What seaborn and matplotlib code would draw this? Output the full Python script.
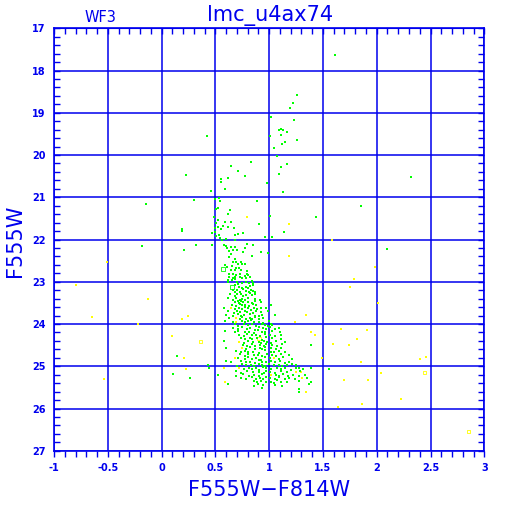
import matplotlib
matplotlib.use('Agg')
import matplotlib.pyplot as plt
import seaborn as sns
import pandas as pd

BLUE = '#0000ee'

# scattered green stars (colour, magnitude)
green_x = [1.613,
           1.255, 1.218, 1.193, 1.019, 1.233,
           1.093, 1.109, 1.13, 1.162, 1.007, 1.109, 0.421,
           1.26, 1.143, 1.118, 1.047, 1.069,
           0.83, 1.162, 0.641, 1.106, 0.709, 1.093, 0.78,
           0.548, 0.622, 0.553, 0.976, 0.585, 0.458, 1.125,
           0.225, 0.306, -0.147, 2.315, 1.85,
           0.492, 0.532, 0.541, 0.883,
           0.507, 0.52, 0.634, 0.616, 0.486, 0.529, 0.51, 0.585, 0.641, 1.007, 0.901, 1.434,
           0.492, 0.529, 0.572, 0.622, 0.553, 0.672, 0.194, 0.194,
           0.467, 0.492, 0.51, 0.535, 0.541, 0.56, 0.597, 0.678, 0.709, 0.758, 0.678, 0.957, 1.025, 1.137,
           0.473, 0.578, 0.597, 0.609, 0.647, 0.678, 0.79, 0.851, 0.771,
           0.628, 0.665, 0.702, 0.92, 0.988, 0.753, 0.641, 0.628, 0.845,
           0.678, 0.665, 0.696, 0.74, 0.715, 0.752, 0.777, 0.585, 0.604, 0.653, 0.721, 0.69,
           0.647, 0.678, 0.74, 0.79,
           0.628, 0.665, 0.696, 0.727, 0.79, 0.777, 0.802,
           0.628, 0.665, 0.684, 0.727, 0.752, 0.783, 0.82,
           0.622, 0.653, 0.678,
           0.702, 0.746, 0.783, 0.814, 0.839, 0.851, 0.616,
           0.678, 0.709, 0.721, 0.746, 0.783, 0.808, 0.82, 0.851,
           0.324, -0.184, 0.212, 2.098, 0.141, 0.104, 0.268]
green_y = [17.63,
           18.57, 18.76, 18.89, 19.09, 19.17,
           19.41, 19.38, 19.41, 19.45, 19.55, 19.52, 19.55,
           19.64, 19.69, 19.74, 19.83, 20.02,
           20.16, 20.21, 20.26, 20.28, 20.38, 20.45, 20.50,
           20.56, 20.54, 20.64, 20.65, 20.80, 20.84, 20.87,
           20.48, 21.06, 21.16, 20.51, 21.21,
           21.03, 21.02, 21.09, 21.08,
           21.28, 21.25, 21.30, 21.40, 21.46, 21.54, 21.60, 21.58, 21.58, 21.44, 21.63, 21.46,
           21.73, 21.70, 21.68, 21.70, 21.74, 21.73, 21.76, 21.79,
           21.84, 21.83, 21.91, 21.89, 21.96, 22.00, 21.99, 21.89, 21.86, 21.84, 22.00, 21.94, 21.94, 21.81,
           22.14, 22.13, 22.16, 22.19, 22.18, 22.18, 22.10, 22.13, 22.21,
           22.27, 22.25, 22.24, 22.29, 22.32, 22.30, 22.35, 22.41, 22.38,
           22.46, 22.54, 22.52, 22.54, 22.59, 22.59, 22.59, 22.60, 22.65, 22.62, 22.68, 22.68,
           22.73, 22.73, 22.73, 22.74,
           22.81, 22.82, 22.84, 22.81, 22.82, 22.86, 22.84,
           22.89, 22.90, 22.89, 22.89, 22.92, 22.90, 22.89,
           22.95, 22.96, 22.94,
           23.01, 23.03, 23.00, 23.03, 22.98, 23.03, 23.00,
           23.08, 23.06, 23.12, 23.14, 23.12, 23.14, 23.11, 23.08,
           22.13, 22.15, 22.25, 22.22, 24.76, 25.18, 25.28]

# dense lower main sequence, read band by band (colours, then magnitudes)
band_colors = [
    [0.665, 0.678, 0.703, 0.727, 0.758, 0.783, 0.814, 0.827, 0.864, 0.851],
    [0.634, 0.678, 0.703, 0.740, 0.758, 0.789, 0.82, 0.839, 0.870],
    [0.622, 0.665, 0.69, 0.727, 0.752, 0.777, 0.808, 0.870, 0.913],
    [0.678, 0.709, 0.721, 0.740, 0.758, 0.802, 0.839, 0.870, 0.92],
    [0.653, 0.696, 0.727, 0.752, 0.777, 0.814, 0.851, 0.882, 1.013],
    [0.578, 0.684, 0.721, 0.746, 0.777, 0.808, 0.827, 0.858, 0.889, 0.92, 0.969],
    [0.622, 0.671, 0.703, 0.727, 0.771, 0.796, 0.851, 0.882, 0.926, 0.988],
    [0.597, 0.665, 0.715, 0.740, 0.765, 0.82, 0.864, 0.907, 0.938, 1.056],
    [0.628, 0.727, 0.752, 0.789, 0.82, 0.845, 0.870, 0.907, 0.944],
    [0.585, 0.665, 0.746, 0.777, 0.808, 0.833, 0.858, 0.901, 0.944, 0.994],
    [0.678, 0.709, 0.765, 0.802, 0.845, 0.876, 0.932, 0.963, 0.988, 1.013, 1.025],
    [0.665, 0.709, 0.746, 0.796, 0.82, 0.864, 0.907, 0.944, 0.975, 1.006, 1.05, 1.093],
    [0.585, 0.678, 0.715, 0.777, 0.814, 0.858, 0.895, 0.932, 0.957, 1.031, 1.099],
    [0.721, 0.765, 0.796, 0.839, 0.882, 0.913, 0.963, 1.006, 1.056, 1.112],
    [0.734, 0.777, 0.82, 0.845, 0.889, 0.938, 0.975, 1.025, 1.106],
    [0.578, 0.765, 0.808, 0.851, 0.901, 0.926, 0.951, 0.982, 1.013, 1.068, 1.143],
    [0.758, 0.796, 0.839, 0.864, 0.913, 0.951, 0.975, 1.031, 1.075, 1.118, 1.385],
    [0.603, 0.783, 0.82, 0.870, 0.913, 0.938, 0.963, 1.019, 1.062, 1.112],
    [0.69, 0.734, 0.777, 0.808, 0.851, 0.907, 0.963, 1.013, 1.044, 1.087, 1.143],
    [0.727, 0.771, 0.808, 0.858, 0.895, 0.938, 0.982, 1.031, 1.068, 1.106, 1.18],
    [0.715, 0.777, 0.802, 0.839, 0.876, 0.92, 0.963, 1.006, 1.087, 1.13, 1.211],
    [0.597, 0.647, 0.740, 0.783, 0.82, 0.864, 0.901, 0.932, 0.975, 1.013, 1.05, 1.099, 1.143, 1.18],
    [0.436, 0.703, 0.746, 0.789, 0.827, 0.858, 0.907, 0.938, 0.963, 0.994, 1.044, 1.087, 1.124, 1.168, 1.211, 1.248],
    [0.442, 0.765, 0.814, 0.839, 0.876, 0.907, 0.944, 0.975, 1.019, 1.075, 1.106, 1.149, 1.199, 1.254, 1.279, 1.316, 1.391, 1.558],
    [0.696, 0.740, 0.796, 0.851, 0.901, 0.951, 0.975, 1.006, 1.056, 1.112, 1.168, 1.285],
    [0.529, 0.69, 0.758, 0.814, 0.858, 0.901, 0.938, 1.062, 1.087, 1.13, 1.174, 1.223, 1.279, 1.335],
    [0.734, 0.789, 0.839, 0.882, 0.913, 0.944, 0.975, 1.006, 1.05, 1.087, 1.149, 1.186, 1.236, 1.353],
    [0.858, 0.889, 0.92, 0.975, 1.013, 1.044, 1.075, 1.106, 1.168, 1.273, 1.391],
    [0.616, 0.858, 0.895, 0.944, 1.056, 1.124, 1.366],
    [0.932, 1.273],
    [1.279],
]
band_mags = [
    [23.19, 23.23, 23.20, 23.24, 23.18, 23.22, 23.25, 23.19, 23.23, 23.21],
    [23.29, 23.33, 23.30, 23.28, 23.34, 23.31, 23.27, 23.32, 23.30],
    [23.39, 23.42, 23.38, 23.43, 23.40, 23.44, 23.39, 23.41, 23.42],
    [23.48, 23.46, 23.49, 23.45, 23.48, 23.47, 23.50, 23.46, 23.48],
    [23.54, 23.57, 23.53, 23.56, 23.55, 23.58, 23.53, 23.56, 23.55],
    [23.62, 23.65, 23.61, 23.64, 23.60, 23.63, 23.66, 23.62, 23.64, 23.61, 23.63],
    [23.70, 23.73, 23.69, 23.72, 23.68, 23.71, 23.74, 23.70, 23.72, 23.69],
    [23.78, 23.80, 23.77, 23.81, 23.79, 23.76, 23.80, 23.82, 23.78, 23.79],
    [23.85, 23.88, 23.84, 23.87, 23.86, 23.89, 23.84, 23.87, 23.85],
    [23.93, 23.95, 23.92, 23.96, 23.93, 23.91, 23.95, 23.94, 23.97, 23.93],
    [24.01, 24.04, 24.00, 24.03, 24.01, 24.05, 23.99, 24.02, 24.04, 24.00, 24.03],
    [24.09, 24.12, 24.08, 24.11, 24.10, 24.13, 24.07, 24.10, 24.12, 24.08, 24.11, 24.09],
    [24.17, 24.20, 24.16, 24.19, 24.18, 24.21, 24.15, 24.18, 24.20, 24.16, 24.19],
    [24.25, 24.28, 24.24, 24.27, 24.26, 24.29, 24.23, 24.26, 24.28, 24.25],
    [24.33, 24.36, 24.32, 24.35, 24.34, 24.37, 24.31, 24.34, 24.36],
    [24.41, 24.44, 24.40, 24.43, 24.42, 24.45, 24.39, 24.42, 24.44, 24.40, 24.43],
    [24.49, 24.52, 24.48, 24.51, 24.50, 24.53, 24.47, 24.50, 24.52, 24.48, 24.50],
    [24.56, 24.59, 24.55, 24.58, 24.57, 24.60, 24.54, 24.57, 24.59, 24.56],
    [24.64, 24.67, 24.63, 24.66, 24.65, 24.68, 24.62, 24.65, 24.67, 24.63, 24.66],
    [24.72, 24.75, 24.71, 24.74, 24.73, 24.76, 24.70, 24.73, 24.75, 24.71, 24.74],
    [24.80, 24.83, 24.79, 24.82, 24.81, 24.84, 24.78, 24.81, 24.83, 24.79, 24.82],
    [24.88, 24.91, 24.87, 24.90, 24.89, 24.92, 24.86, 24.89, 24.91, 24.87, 24.90, 24.88, 24.92, 24.89],
    [24.96, 24.99, 24.95, 24.98, 24.97, 25.00, 24.94, 24.97, 24.99, 24.95, 24.98, 24.96, 25.00, 24.97, 24.95, 24.98],
    [25.04, 25.07, 25.03, 25.06, 25.05, 25.08, 25.02, 25.05, 25.07, 25.03, 25.06, 25.04, 25.08, 25.05, 25.03, 25.06, 25.04, 25.07],
    [25.12, 25.15, 25.11, 25.14, 25.13, 25.16, 25.10, 25.13, 25.15, 25.11, 25.14, 25.12],
    [25.20, 25.23, 25.19, 25.22, 25.21, 25.24, 25.18, 25.21, 25.23, 25.19, 25.22, 25.20, 25.24, 25.21],
    [25.27, 25.30, 25.26, 25.29, 25.28, 25.31, 25.25, 25.28, 25.30, 25.26, 25.29, 25.27, 25.31, 25.28],
    [25.35, 25.38, 25.34, 25.37, 25.36, 25.39, 25.33, 25.36, 25.38, 25.34, 25.37],
    [25.43, 25.46, 25.42, 25.45, 25.44, 25.47, 25.41],
    [25.51, 25.53],
    [25.60],
]

yellow_x = [0.79, 1.18, 1.18, -0.507, -0.792, -0.122, -0.65, 0.188, 0.243, -0.222, 0.095, 0.206, 0.231, -0.538,
            1.583, 1.98, 1.788, 1.751, 2.01, 1.67, 1.906, 1.813, 1.59, 1.738, 1.85, 2.402, 2.458, 2.036,
            1.695, 1.918, 2.222, 1.639, 1.862,
            0.641, 1.341, 0.69, 0.696, 1.236, 1.385, 1.422, 0.721, 0.752, 0.678, 1.044, 1.49, 0.578,
            0.721, 1.248, 1.298, 1.019, 1.31, 0.585, 1.347]
yellow_y = [21.46, 21.63, 22.40, 22.53, 23.07, 23.40, 23.83, 23.87, 23.81, 24.01, 24.28, 24.81, 25.06, 25.30,
            22.00, 22.64, 22.93, 23.13, 23.49, 24.11, 24.14, 24.35, 24.47, 24.50, 24.90, 24.82, 24.77, 25.15,
            25.32, 25.32, 25.78, 25.96, 25.89,
            23.63, 23.79, 23.86, 23.94, 23.94, 24.18, 24.26, 24.42, 24.57, 24.81, 24.81, 24.81, 25.05,
            25.05, 25.13, 25.13, 25.21, 25.28, 25.36, 25.60]

# open symbols
open_yellow_x = [0.361, 0.907, 2.442, 2.851]
open_yellow_y = [24.42, 24.34, 25.14, 26.54]
open_green_x = [0.572, 0.653]
open_green_y = [22.70, 23.12]

x_ticks = [-1, -0.5, 0, 0.5, 1, 1.5, 2, 2.5, 3]
x_labels = ['-1', '-0.5', '0', '0.5', '1', '1.5', '2', '2.5', '3']
y_ticks = list(range(17, 28))
x_minor = [v / 10 for v in range(-10, 31)]
y_minor = [17 + v / 5 for v in range(51)]

#%% build tables
gx = list(green_x)
gy = list(green_y)
for cols, mags in zip(band_colors, band_mags):
    gx += cols
    gy += mags
green = pd.DataFrame({'color': gx, 'mag': gy})
yellow = pd.DataFrame({'color': yellow_x, 'mag': yellow_y})

#%% plot
sns.set_style('white')
fig = plt.figure(figsize=(5.12, 5.12), dpi=100)
ax = fig.add_axes([54 / 512, 1 - 450.8 / 512, 430.3 / 512, 422.5 / 512])

ax.set_xlim(-1, 3)
ax.set_ylim(27, 17)
ax.set_xticks(x_ticks)
ax.set_xticklabels(x_labels)
ax.set_yticks(y_ticks)
ax.set_xticks(x_minor, minor=True)
ax.set_yticks(y_minor, minor=True)
ax.grid(True, which='major', color=BLUE, linewidth=1.1)
ax.set_axisbelow(True)

sns.scatterplot(data=yellow, x='color', y='mag', ax=ax, color='#ffff00', marker='s',
                s=3.4, linewidth=0, zorder=3)
sns.scatterplot(x=open_yellow_x, y=open_yellow_y, ax=ax, marker='s', s=6,
                facecolor='none', edgecolor='#ffff00', linewidth=0.6, zorder=3)
sns.scatterplot(data=green, x='color', y='mag', ax=ax, color='#00ff00', marker='s',
                s=3.4, linewidth=0, zorder=4)
sns.scatterplot(x=open_green_x, y=open_green_y, ax=ax, marker='s', s=6,
                facecolor='none', edgecolor='#00ff00', linewidth=0.6, zorder=4)

for sp in ax.spines.values():
    sp.set_color(BLUE)
    sp.set_linewidth(1.2)

ax.tick_params(axis='x', which='both', direction='out', length=4, width=1, color=BLUE,
               labelcolor=BLUE, labelsize=7, pad=5, bottom=True)
ax.tick_params(axis='y', which='both', direction='in', length=4, width=1, color=BLUE,
               labelcolor=BLUE, labelsize=7, left=True, right=True, pad=6)
for lab in ax.get_xticklabels() + ax.get_yticklabels():
    lab.set_fontweight('bold')

top = ax.secondary_xaxis('top')
top.set_xticks(x_ticks)
top.set_xticks(x_minor, minor=True)
top.tick_params(which='both', direction='in', length=4, width=1, color=BLUE,
                top=True, labeltop=False)
top.spines['top'].set_color(BLUE)

ax.set_xlabel('F555W\u2212F814W', color=BLUE, fontsize=15)
ax.xaxis.set_label_coords(0.5, -0.093)
ax.xaxis.label.set_va('center')
ax.set_ylabel('F555W', color=BLUE, fontsize=15)
ax.yaxis.set_label_coords(-0.091, 0.497)
ax.yaxis.label.set_va('center')

fig.text(270 / 512, 1 - 16 / 512, 'lmc_u4ax74', color=BLUE, fontsize=15, ha='center', va='center')
fig.text(100 / 512, 1 - 18 / 512, 'WF3', color=BLUE, fontsize=10.5, ha='center', va='center')

fig.savefig('out.png', dpi=100)
